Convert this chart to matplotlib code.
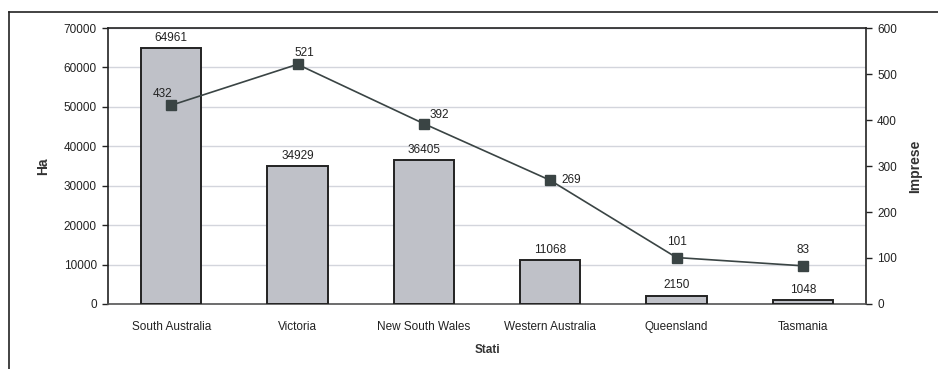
import matplotlib
matplotlib.use("Agg")
from matplotlib import pyplot as plt
from matplotlib.lines import Line2D

plt.rcParams['font.family'] = ['Liberation Sans', 'DejaVu Sans']

stati = ["South Australia", "Victoria", "New South Wales", "Western Australia", "Queensland", "Tasmania"]
ettari = [64961, 34929, 36405, 11068, 2150, 1048]
imprese = [432, 521, 392, 269, 101, 83]

# label placement for the line values: (dx, dy) in points, ha, va
label_pos = [((-6, 4), "center", "bottom"),
             ((-2, 4), "left", "bottom"),
             ((4, 2), "left", "bottom"),
             ((8, 0), "left", "center"),
             ((0, 7), "center", "bottom"),
             ((0, 7), "center", "bottom")]

W, H = 938, 369
fig = plt.figure(figsize=(W / 100, H / 100), dpi=100)
ax = fig.add_axes([108 / W, 1 - 304 / H, (866 - 108) / W, (304 - 28) / H])

x = list(range(len(stati)))
ax.bar(x, ettari, width=0.475, color="#bfc1c8", edgecolor="#222222", linewidth=1.4, zorder=3)
for xi, v in zip(x, ettari):
    ax.annotate(str(v), (xi, v), xytext=(0, 3), textcoords="offset points",
                ha="center", va="bottom", fontsize=8.5, color="#222222")

ax.set_xlim(-0.5, len(stati) - 0.5)
ax.set_ylim(0, 70000)
ax.set_yticks(range(0, 70001, 10000))
ax.grid(axis="y", color="#d3d5dc", linewidth=1.0, zorder=0)
ax.set_axisbelow(True)
ax.set_xticks(x)
ax.set_xticklabels(stati, fontsize=8.5, color="#222222")
ax.tick_params(axis="x", length=0, pad=12)
ax.tick_params(axis="y", labelsize=8.5, colors="#222222", length=4, width=1, pad=4)
ax.set_ylabel("Ha", fontsize=10, fontweight="bold", color="#333333", labelpad=10)
ax.set_xlabel("Stati", fontsize=8.5, fontweight="bold", color="#333333", labelpad=8)
for side in ["left", "top", "right"]:
    ax.spines[side].set_color("#222222")
    ax.spines[side].set_linewidth(1.2)
ax.spines["bottom"].set_color("#555555")
ax.spines["bottom"].set_linewidth(1.2)

ax2 = ax.twinx()
ax2.plot(x, imprese, color="#3a4444", linewidth=1.2, marker="s", markersize=7.5,
         markerfacecolor="#3a4444", markeredgecolor="#3a4444", zorder=4)
for xi, v, (off, ha, va) in zip(x, imprese, label_pos):
    ax2.annotate(str(v), (xi, v), xytext=off, textcoords="offset points",
                 ha=ha, va=va, fontsize=8.5, color="#222222")
ax2.set_ylim(0, 600)
ax2.set_yticks(range(0, 601, 100))
ax2.tick_params(axis="y", labelsize=8.5, colors="#222222", length=4, width=1, pad=4)
ax2.set_ylabel("Imprese", fontsize=10, fontweight="bold", color="#333333", labelpad=8)
for side in ["left", "top", "right", "bottom"]:
    ax2.spines[side].set_visible(False)

# outer chart frame, partly cut at the right and bottom
fig.add_artist(Line2D([9 / W, 9 / W], [0, 1 - 12 / H], color="#222222", linewidth=1.2))
fig.add_artist(Line2D([9 / W, 1], [1 - 12 / H, 1 - 12 / H], color="#222222", linewidth=1.2))

fig.savefig("out.png", dpi=100)
